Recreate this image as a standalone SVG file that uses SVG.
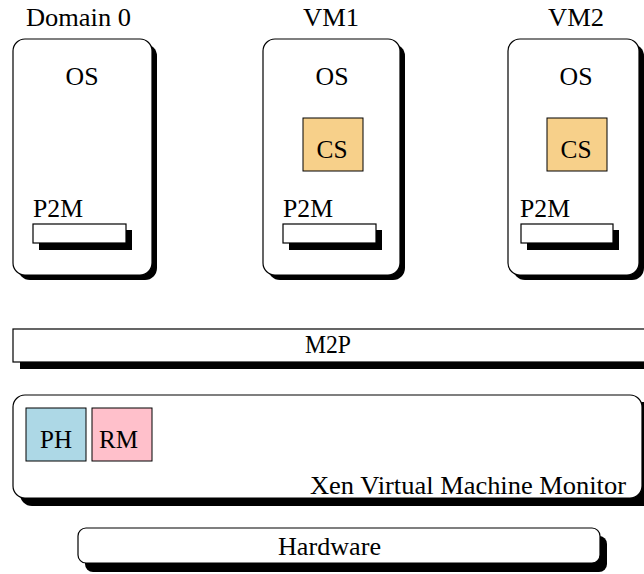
<svg xmlns="http://www.w3.org/2000/svg" width="644" height="574" viewBox="0 0 644 574">
<style>
.box{fill:#fff;stroke:#000;stroke-width:1.2}
.sh{fill:#000;stroke:none}
.t{font-family:"Liberation Serif","Times New Roman",Times,serif;font-size:26px;fill:#000}
.m{text-anchor:middle}
.cs{fill:#f7d08a;stroke:#000;stroke-width:1}
.ph{fill:#add8e6;stroke:#000;stroke-width:1}
.rm{fill:#ffc0cb;stroke:#000;stroke-width:1}
</style>
<rect width="644" height="574" fill="#fff"/>
<g id="domain0">
<text class="t" x="26" y="26" textLength="105" lengthAdjust="spacingAndGlyphs">Domain 0</text>
<rect class="sh" x="18" y="44" width="139" height="236" rx="12"/>
<rect class="box" x="13" y="39" width="139" height="236" rx="12"/>
<text class="t m" x="82" y="85" textLength="33" lengthAdjust="spacingAndGlyphs">OS</text>
<text class="t" x="33" y="217" textLength="50" lengthAdjust="spacingAndGlyphs">P2M</text>
<rect class="sh" x="39" y="230" width="93" height="20"/>
<rect class="box" x="33" y="224" width="93" height="19"/>
</g>
<g id="vm1">
<text class="t m" x="331" y="26" textLength="56" lengthAdjust="spacingAndGlyphs">VM1</text>
<rect class="sh" x="268" y="44" width="137" height="236" rx="12"/>
<rect class="box" x="263" y="39" width="137" height="236" rx="12"/>
<text class="t m" x="332" y="85" textLength="33" lengthAdjust="spacingAndGlyphs">OS</text>
<rect class="cs" x="303" y="118" width="60" height="53"/>
<text class="t m" x="332" y="158" textLength="31" lengthAdjust="spacingAndGlyphs">CS</text>
<text class="t" x="283" y="217" textLength="50" lengthAdjust="spacingAndGlyphs">P2M</text>
<rect class="sh" x="289" y="230" width="93" height="20"/>
<rect class="box" x="283" y="224" width="93" height="19"/>
</g>
<g id="vm2">
<text class="t m" x="576" y="26" textLength="56" lengthAdjust="spacingAndGlyphs">VM2</text>
<rect class="sh" x="513" y="44" width="131" height="236" rx="12"/>
<rect class="box" x="508" y="39" width="131" height="236" rx="12"/>
<text class="t m" x="576" y="85" textLength="33" lengthAdjust="spacingAndGlyphs">OS</text>
<rect class="cs" x="547" y="118" width="60" height="53"/>
<text class="t m" x="576" y="158" textLength="31" lengthAdjust="spacingAndGlyphs">CS</text>
<text class="t" x="520" y="217" textLength="50" lengthAdjust="spacingAndGlyphs">P2M</text>
<rect class="sh" x="527" y="230" width="92" height="20"/>
<rect class="box" x="521" y="224" width="92" height="19"/>
</g>
<g id="m2p">
<rect class="sh" x="20" y="336" width="640" height="33"/>
<rect class="box" x="13" y="329" width="640" height="33"/>
<text class="t m" x="328" y="353" textLength="46" lengthAdjust="spacingAndGlyphs">M2P</text>
</g>
<g id="xen">
<rect class="sh" x="20" y="402" width="640" height="104" rx="12"/>
<rect class="box" x="13" y="395" width="629" height="103" rx="12"/>
<rect class="ph" x="26" y="408" width="60" height="53"/>
<text class="t" x="40" y="448" textLength="32" lengthAdjust="spacingAndGlyphs">PH</text>
<rect class="rm" x="92" y="408" width="60" height="53"/>
<text class="t" x="99" y="448" textLength="39" lengthAdjust="spacingAndGlyphs">RM</text>
<text class="t" x="310" y="494" textLength="316" lengthAdjust="spacingAndGlyphs">Xen Virtual Machine Monitor</text>
</g>
<g id="hardware">
<rect class="sh" x="85" y="536" width="522" height="36" rx="8"/>
<rect class="box" x="78" y="528" width="522" height="35" rx="8"/>
<text class="t" x="278" y="555" textLength="103" lengthAdjust="spacingAndGlyphs">Hardware</text>
</g>
<g id="connectors"/>
</svg>
